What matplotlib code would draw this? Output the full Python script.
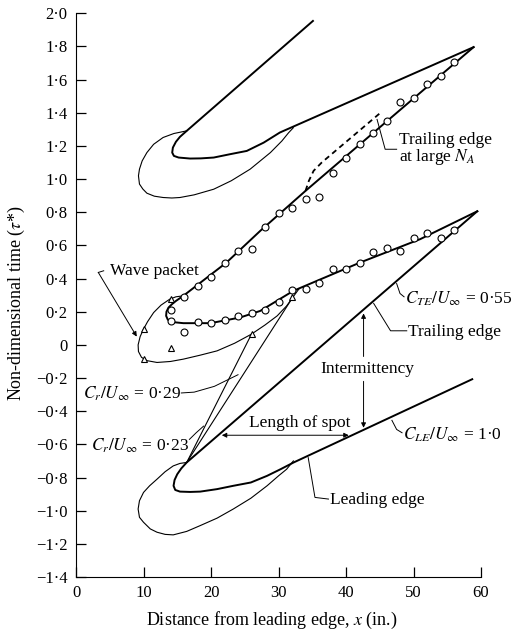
import matplotlib
matplotlib.use("Agg")
import matplotlib.pyplot as plt
from matplotlib.ticker import FixedLocator, FuncFormatter

plt.rcParams['font.family'] = ['Liberation Serif', 'DejaVu Serif']
plt.rcParams['mathtext.fontset'] = 'stix'
plt.rcParams['font.size'] = 12.5

# thick boundary curves (x in inches, tau*)
top_x = [35.1, 16.4, 15.4, 14.8, 14.35, 14.25, 14.5, 15.2, 16.9, 18.5, 20.4,
         22.8, 25.3, 27.8, 30.2, 58.9]
top_y = [1.954, 1.291, 1.255, 1.225, 1.19, 1.16, 1.14, 1.13, 1.124, 1.125, 1.13,
         1.15, 1.17, 1.22, 1.281, 1.796]

mid_x = [58.9, 44.1, 34.0, 27.3, 22.3, 15.9, 14.8, 14.2, 13.7, 13.4, 13.35, 13.6,
         14.2, 15.9, 19.9, 24.3, 27.3, 32.2, 42.1, 51.0, 59.45]
mid_y = [1.796, 1.281, 0.929, 0.688, 0.497, 0.296, 0.265, 0.245, 0.225, 0.2, 0.175,
         0.152, 0.138, 0.131, 0.131, 0.165, 0.205, 0.326, 0.497, 0.638, 0.806]

low_x = [59.45, 16.4, 15.6, 15.0, 14.6, 14.45, 14.7, 15.4, 16.9, 18.4, 20.9, 23.3,
         25.9, 28.3, 30.3, 32.2, 58.7]
low_y = [0.806, -0.709, -0.745, -0.78, -0.815, -0.85, -0.875, -0.885, -0.887,
         -0.885, -0.87, -0.85, -0.83, -0.79, -0.75, -0.71, -0.207]

# thin loops
loop_top_x = [16.4, 14.5, 12.9, 11.5, 10.5, 9.8, 9.4, 9.25, 9.4, 9.9, 10.5, 11.6,
              12.9, 14.2, 15.4, 17.5, 20.4, 23.0, 25.8, 28.8, 30.5, 31.5, 32.2]
loop_top_y = [1.291, 1.275, 1.251, 1.21, 1.16, 1.11, 1.06, 1.02, 0.97, 0.94, 0.915,
              0.897, 0.889, 0.886, 0.889, 0.905, 0.939, 0.99, 1.06, 1.16, 1.23,
              1.28, 1.31]

packet_x = [15.9, 14.8, 13.9, 12.6, 11.5, 10.6, 10.0, 9.5, 9.2, 9.25, 9.7, 10.5,
            12.0, 14.0, 15.9, 18.4, 20.9, 23.5, 26.0, 28.0, 29.8, 31.2, 32.1, 33.0]
packet_y = [0.296, 0.29, 0.276, 0.24, 0.195, 0.14, 0.095, 0.05, 0.0, -0.04, -0.075,
            -0.095, -0.106, -0.1, -0.086, -0.062, -0.036, 0.01, 0.065, 0.12, 0.175,
            0.235, 0.286, 0.336]

loop_low_x = [16.4, 15.4, 14.4, 13.2, 12.0, 10.9, 10.0, 9.4, 9.2, 9.4, 10.0, 11.0,
              12.0, 13.2, 14.4, 16.4, 18.4, 20.9, 23.3, 25.9, 28.3, 30.0, 31.2, 32.2]
loop_low_y = [-0.709, -0.715, -0.73, -0.765, -0.81, -0.85, -0.89, -0.94, -0.99,
              -1.04, -1.07, -1.11, -1.13, -1.143, -1.146, -1.125, -1.09, -1.045,
              -0.99, -0.925, -0.85, -0.79, -0.75, -0.70]

# trailing edge at large N_A (dashed)
dash_x = [34.0, 34.5, 35.2, 36.4, 45.1]
dash_y = [0.929, 0.99, 1.05, 1.10, 1.40]

# C_r rays from the spot origin
ray29_x = [16.4, 32.1]
ray29_y = [-0.709, 0.286]
ray23_x = [16.4, 26.0]
ray23_y = [-0.709, 0.065]

# measured points
circ_x = [14, 16, 18, 20, 22, 24, 26, 28, 30, 32, 34, 36, 38, 40, 42, 44, 46, 48, 50, 52, 54, 56]
circ_upper = [0.209, 0.286, 0.356, 0.407, 0.491, 0.567, 0.581, 0.714, 0.793, 0.823, 0.879,
              0.893, 1.034, 1.13, 1.21, 1.281, 1.351, 1.466, 1.49, 1.576, 1.619, 1.707]
circ_lower = [0.145, 0.075, 0.139, 0.135, 0.149, 0.175, 0.195, 0.21, 0.256, 0.33, 0.336,
              0.376, 0.457, 0.457, 0.491, 0.563, 0.583, 0.567, 0.642, 0.672, 0.644, 0.692]
tri_x = [10, 10, 14, 14, 26, 32]
tri_y = [0.095, -0.086, 0.276, -0.016, 0.065, 0.286]


def fmt(v, pos):
    if abs(v) < 1e-9:
        return "0"
    s = "%.1f" % abs(v)
    s = s.replace(".", "\u00b7")
    return ("\u2212" if v < 0 else "") + s


fig = plt.figure(figsize=(5.25, 6.31), dpi=100)
ax = fig.add_axes([0.1448, 0.0856, 0.7714, 0.8933])

thick = dict(color='black', lw=1.4, solid_joinstyle='round')
thin = dict(color='black', lw=0.8, solid_joinstyle='round')

ax.plot(top_x, top_y, **thick)
ax.plot(mid_x, mid_y, **thick)
ax.plot(low_x, low_y, **thick)
ax.plot(loop_top_x, loop_top_y, **thin)
ax.plot(packet_x, packet_y, **thin)
ax.plot(loop_low_x, loop_low_y, **thin)
ax.plot(dash_x, dash_y, color='black', lw=1.3, ls=(0, (3, 2.2)))
ax.plot(ray29_x, ray29_y, **thin)
ax.plot(ray23_x, ray23_y, **thin)

mk = dict(ls='none', mfc='white', mec='black', mew=0.8, ms=5)
ax.plot(circ_x, circ_upper, marker='o', **mk)
ax.plot(circ_x, circ_lower, marker='o', **mk)
ax.plot(tri_x, tri_y, marker='^', **mk)

# annotations
lead = dict(color='black', lw=0.7)
arr = dict(arrowstyle='-|>', color='black', lw=0.7, mutation_scale=7,
           shrinkA=0, shrinkB=0)

ax.plot([44.6, 45.8, 47.5], [1.36, 1.18, 1.18], **lead)
ax.text(47.8, 1.18, "Trailing edge\nat large $N_A$", va='center', ha='left',
        linespacing=0.95)

ax.plot([47.5, 48.0, 48.6], [0.37, 0.31, 0.29], **lead)
ax.text(48.7, 0.275, r"$C_{TE}/U_\infty$ = 0·55", va='center', ha='left')

ax.plot([44.1, 46.6, 49.0], [0.25, 0.085, 0.085], **lead)
ax.text(49.2, 0.075, "Trailing edge", va='center', ha='left')

ax.text(43.1, -0.147, "Intermittency", va='center', ha='center')
ax.annotate("", xy=(42.6, 0.19), xytext=(42.6, -0.07), arrowprops=arr)
ax.annotate("", xy=(42.6, -0.50), xytext=(42.6, -0.22), arrowprops=arr)

ax.text(33.2, -0.47, "Length of spot", va='center', ha='center')
ax.annotate("", xy=(21.6, -0.545), xytext=(40.4, -0.545),
            arrowprops=dict(arr, arrowstyle='<|-|>'))

ax.plot([46.8, 47.5, 48.3], [-0.455, -0.51, -0.53], **lead)
ax.text(48.4, -0.545, r"$C_{LE}/U_\infty$ = 1·0", va='center', ha='left')

ax.plot([34.4, 35.4, 37.4], [-0.68, -0.92, -0.93], **lead)
ax.text(37.6, -0.935, "Leading edge", va='center', ha='left')

ax.plot([4.1, 3.3], [0.447, 0.437], **lead)
ax.annotate("", xy=(9.0, 0.05), xytext=(3.3, 0.437), arrowprops=arr)
ax.text(5.0, 0.445, "Wave packet", va='center', ha='left')

ax.text(15.6, -0.297, r"$C_r/U_\infty$ = 0·29", va='center', ha='right')
ax.plot([15.6, 17.5, 20.5, 24.0], [-0.29, -0.285, -0.25, -0.18], **lead)
ax.text(16.8, -0.61, r"$C_r/U_\infty$ = 0·23", va='center', ha='right')
ax.plot([16.8, 17.8, 18.9], [-0.57, -0.53, -0.49], **lead)

# axes styling
ax.set_xlim(0, 60)
ax.set_ylim(-1.4, 2.0)
ax.spines['top'].set_visible(False)
ax.spines['right'].set_visible(False)
ax.xaxis.set_major_locator(FixedLocator([0, 10, 20, 30, 40, 50, 60]))
ax.yaxis.set_major_locator(FixedLocator([i / 10 for i in range(-14, 21, 2)]))
ax.yaxis.set_major_formatter(FuncFormatter(fmt))
ax.tick_params(direction='in', length=7, width=0.9, labelsize=12, pad=6)
ax.set_xlabel("Distance from leading edge, $x$ (in.)", fontsize=13)
ax.set_ylabel(r"Non-dimensional time ($\tau$*)", fontsize=13)
ax.xaxis.set_label_coords(0.484, -0.058)
ax.yaxis.set_label_coords(-0.122, 0.485)

fig.savefig("out.png", dpi=100)
